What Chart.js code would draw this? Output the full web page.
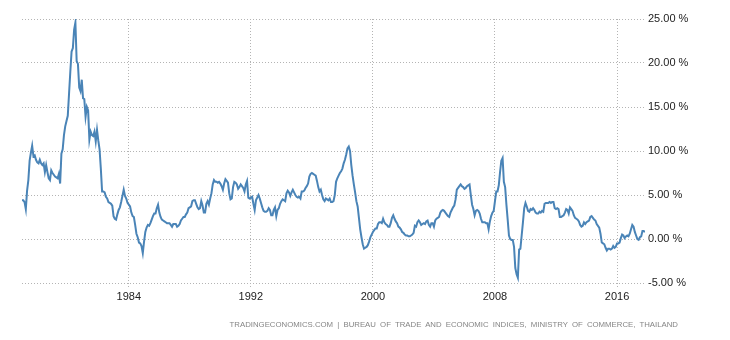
<!DOCTYPE html>
<html>
<head>
<meta charset="utf-8">
<script src="https://cdn.jsdelivr.net/npm/chart.js@4"></script>
<style>
  body { margin: 0; background: #fff; }
  #wrap { position: relative; width: 730px; height: 340px; }
  #source {
    position: absolute; right: 52px; top: 320px;
    font: 7.8px "Liberation Sans", Arial, sans-serif;
    color: #858585; word-spacing: 2px; white-space: nowrap;
  }
</style>
</head>
<body>
<div id="wrap">
  <canvas id="chartId" width="730" height="340"></canvas>
  <div id="source"></div>
</div>
<script>
const startYear = 1977; // first month is January 1977
const tickYears = [1984, 1992, 2000, 2008, 2016];
const yTicks = [-5, 0, 5, 10, 15, 20, 25];
const sourceNote = 'TRADINGECONOMICS.COM | BUREAU OF TRADE AND ECONOMIC INDICES, MINISTRY OF COMMERCE, THAILAND';

// monthly inflation rate, %, one row per year
const inflationRate = [
  4.4, 4.4, 4.2, 3.4, 5.5, 6.7, 8.9, 9.8, 10.6, 9.4, 9.5, 9.0,        // 1977
  8.7, 8.6, 9.0, 8.6, 8.4, 8.6, 7.6, 8.4, 7.6, 6.9, 6.7, 7.8,         // 1978
  7.5, 7.3, 7.1, 7.0, 6.9, 7.4, 6.3, 9.7, 10.2, 11.8, 12.8, 13.4,     // 1979
  14.0, 16.5, 19.0, 21.3, 21.7, 23.8, 24.6, 20.2, 19.9, 17.2, 16.8, 18.1, // 1980
  16.0, 15.9, 13.9, 15.0, 14.6, 11.3, 12.2, 11.8, 11.7, 12.2, 11.1, 12.4, // 1981
  11.2, 10.2, 8.0, 5.4, 5.4, 5.3, 4.8, 4.6, 4.2, 4.1, 4.0, 3.8,       // 1982
  2.6, 2.3, 2.2, 2.8, 3.3, 3.6, 4.2, 4.9, 5.6, 4.9, 4.6, 4.1,         // 1983
  3.9, 3.7, 3.0, 2.6, 2.5, 1.6, 0.6, 0.2, -0.4, -0.5, -0.8, -1.6,     // 1984
  -0.3, 0.8, 1.3, 1.6, 1.5, 1.8, 2.2, 2.6, 2.9, 2.9, 3.5, 3.9,        // 1985
  3.0, 2.5, 2.2, 2.1, 2.0, 1.9, 1.8, 1.8, 1.8, 1.6, 1.4, 1.7,         // 1986
  1.7, 1.7, 1.4, 1.5, 1.7, 2.1, 2.3, 2.5, 2.5, 2.8, 3.0, 3.5,         // 1987
  3.6, 3.7, 4.3, 4.4, 4.4, 4.0, 3.6, 3.4, 3.5, 4.3, 3.8, 3.0,         // 1988
  3.0, 4.0, 4.3, 3.9, 4.6, 5.2, 6.2, 6.7, 6.5, 6.5, 6.4, 6.5,         // 1989
  6.3, 6.0, 5.6, 6.3, 6.8, 6.6, 6.4, 5.2, 4.5, 4.6, 5.9, 6.5,         // 1990
  6.4, 6.2, 5.7, 5.9, 6.2, 6.0, 5.8, 5.4, 6.2, 6.6, 4.7, 4.6,         // 1991
  4.7, 4.8, 4.0, 3.3, 4.4, 4.7, 5.0, 4.6, 4.1, 3.6, 3.2, 3.1,         // 1992
  3.1, 3.2, 3.5, 3.3, 2.7, 2.7, 3.3, 3.6, 2.6, 3.3, 3.5, 4.0,         // 1993
  4.3, 4.5, 4.4, 4.3, 5.2, 5.5, 5.3, 4.9, 5.3, 5.6, 5.3, 5.0,         // 1994
  4.8, 4.7, 4.8, 4.6, 5.4, 5.4, 5.5, 5.8, 6.0, 6.3, 7.1, 7.4,         // 1995
  7.5, 7.4, 7.3, 7.2, 6.6, 5.9, 5.4, 5.6, 5.0, 4.5, 4.3, 4.6,         // 1996
  4.5, 4.4, 4.6, 4.2, 4.2, 4.3, 5.0, 6.5, 6.9, 7.2, 7.5, 7.7,         // 1997
  8.0, 8.6, 9.0, 9.6, 10.3, 10.5, 10.0, 8.4, 7.2, 6.2, 5.3, 4.3,      // 1998
  3.7, 2.4, 1.1, 0.2, -0.6, -1.1, -1.0, -0.9, -0.7, -0.3, 0.2, 0.5,   // 1999
  0.8, 1.0, 1.2, 1.2, 1.7, 1.9, 1.9, 1.8, 2.3, 1.9, 1.7, 1.6,         // 2000
  1.4, 1.4, 1.8, 2.4, 2.7, 2.3, 2.0, 1.8, 1.4, 1.3, 1.1, 0.8,         // 2001
  0.7, 0.5, 0.4, 0.4, 0.3, 0.3, 0.4, 0.5, 0.7, 1.5, 1.4, 1.9,         // 2002
  2.1, 1.9, 1.6, 1.7, 1.8, 1.7, 2.0, 2.1, 1.6, 1.4, 1.8, 1.8,         // 2003
  1.4, 2.1, 2.3, 2.4, 2.5, 3.0, 3.2, 3.3, 3.2, 3.0, 2.8, 2.6,         // 2004
  2.5, 3.0, 3.3, 3.6, 3.8, 4.5, 5.6, 5.8, 6.0, 6.2, 6.0, 5.9,         // 2005
  5.7, 5.8, 6.0, 6.1, 6.2, 5.0, 3.9, 3.4, 2.7, 3.2, 3.3, 3.2,         // 2006
  2.9, 2.3, 1.9, 1.9, 1.9, 1.8, 1.8, 1.1, 2.0, 2.6, 3.0, 3.2,         // 2007
  4.3, 5.4, 5.4, 6.1, 7.6, 8.9, 9.2, 6.5, 5.9, 3.9, 2.2, 0.4,         // 2008
  0.0, -0.1, -0.1, -0.9, -3.3, -4.0, -4.4, -1.2, -1.1, 0.4, 1.9, 3.5, // 2009
  4.1, 3.7, 3.2, 3.1, 3.4, 3.3, 3.5, 3.3, 3.0, 2.9, 2.9, 3.1,         // 2010
  3.0, 3.2, 3.1, 4.0, 4.1, 4.1, 4.1, 4.2, 4.1, 4.2, 4.2, 3.5,         // 2011
  3.4, 3.5, 3.4, 2.5, 2.5, 2.6, 2.7, 3.0, 3.4, 3.3, 2.9, 3.6,         // 2012
  3.4, 3.2, 2.7, 2.4, 2.3, 2.2, 2.0, 1.6, 1.4, 1.5, 1.9, 1.7,         // 2013
  1.9, 2.0, 2.1, 2.5, 2.6, 2.4, 2.2, 2.1, 1.7, 1.5, 1.3, 0.6,         // 2014
  -0.4, -0.5, -0.6, -1.0, -1.3, -1.1, -1.1, -1.2, -1.1, -0.8, -1.0, -0.9, // 2015
  -0.5, -0.5, -0.4, 0.1, 0.5, 0.4, 0.1, 0.3, 0.4, 0.3, 0.6, 1.1,      // 2016
  1.6, 1.4, 0.8, 0.4, 0.0, -0.1, 0.2, 0.3, 0.9, 0.9, 0.8              // 2017
];

document.getElementById('source').textContent = sourceNote;

const points = inflationRate.map((v, i) => ({ x: startYear + i / 12, y: v }));
const lastX = startYear + (inflationRate.length - 1) / 12;

const tickFont = { family: '"Liberation Sans", Arial, sans-serif', size: 11 };
// dotted grid: in v4 the dash pattern sits in border.dash
const gridBorder = { display: false, dash: [1, 2] };

const ctx = document.getElementById('chartId').getContext('2d');

const chart = new Chart(ctx, {
    type: 'line',
    data: {
        datasets: [{
            data: points,
            borderColor: '#4a84b7',
            borderWidth: 2,
            pointRadius: 0,
            tension: 0,
            fill: false
        }]
    },
    options: {
        responsive: false,
        animation: false,
        layout: { padding: { left: 22, top: 19, right: 0, bottom: 0 } },
        plugins: { legend: { display: false }, tooltip: { enabled: false } },
        scales: {
            x: {
                type: 'linear',
                min: startYear,
                max: lastX,
                afterBuildTicks: scale => { scale.ticks = tickYears.map(v => ({ value: v })); },
                afterFit: scale => { scale.height = 57; },
                border: gridBorder,
                grid: { color: '#b4b4b4', drawTicks: true, tickLength: 6, tickBorderDash: [1, 2] },
                ticks: {
                    font: tickFont, color: '#222', padding: 1, maxRotation: 0,
                    callback: v => String(v)
                }
            },
            y: {
                position: 'right',
                min: yTicks[0],
                max: yTicks[yTicks.length - 1],
                afterBuildTicks: scale => { scale.ticks = yTicks.map(v => ({ value: v })); },
                afterFit: scale => { scale.width = 85; },
                border: gridBorder,
                grid: { color: '#b4b4b4', drawTicks: false },
                ticks: {
                    font: tickFont, color: '#222', padding: 3,
                    callback: v => v.toFixed(2) + ' %'
                }
            }
        }
    }
});
</script>
</body>
</html>
